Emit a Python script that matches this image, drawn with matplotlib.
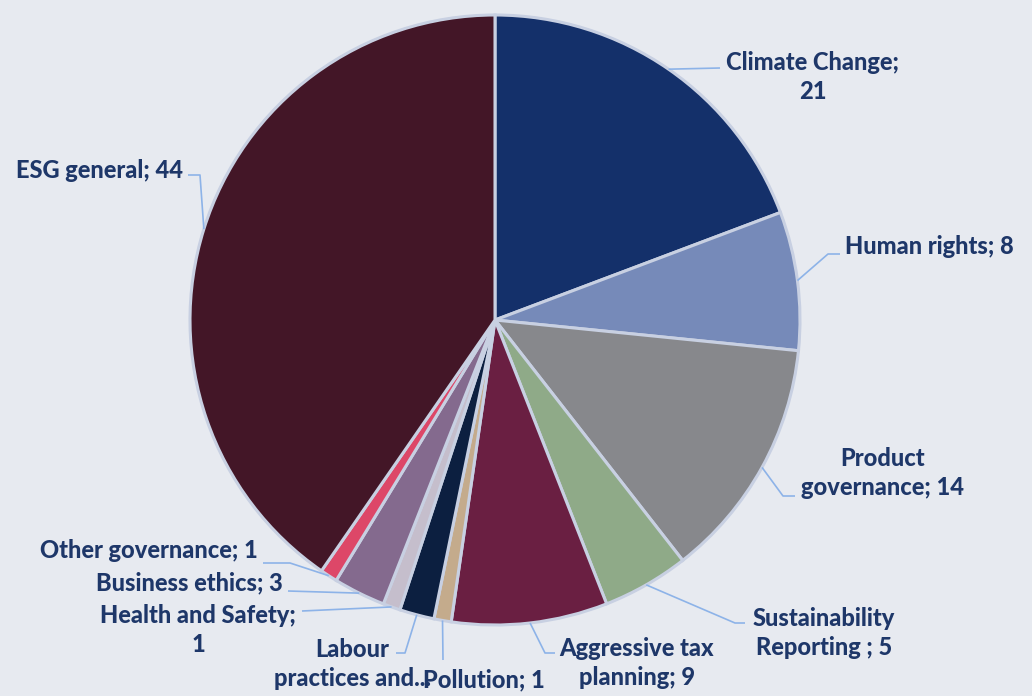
import numpy as np
import matplotlib.pyplot as plt

# ESG topics and counts, clockwise from 12 o'clock
topics = ["Climate Change", "Human rights", "Product governance",
          "Sustainability Reporting", "Aggressive tax planning", "Pollution",
          "Labour practices and...", "Health and Safety", "Business ethics",
          "Other governance", "ESG general"]
counts = [21, 8, 14, 5, 9, 1, 2, 1, 3, 1, 44]

# label text as wrapped on the chart ({} gets the count)
label_fmt = ["Climate Change;\n{}", "Human rights; {}", "Product\ngovernance; {}",
             "Sustainability\nReporting ; {}", "Aggressive tax\nplanning; {}",
             "Pollution; {}", "Labour\npractices and...", "Health and Safety;\n{}",
             "Business ethics; {}", "Other governance; {}", "ESG general; {}"]

colors = ["#14306A", "#768AB9", "#87888C", "#8FAA88", "#6A1F42", "#C4AB8C",
          "#0C1F40", "#C5BECC", "#846A8E", "#DD4768", "#431627"]

BG = "#E7EAF0"
TEXT = "#1E3769"
LEADER = "#8DB3E8"

W, H = 1032, 696
CX, CY, R = 495, 320, 305


def px(x, y):
    # pixel position -> data coords (pie radius = 1)
    return (x - CX) / R, (CY - y) / R


# text placement: (x, y, ha) in pixels, plus leader elbow points
layout = [
    ((813, 77, "center"), [(720, 68)]),
    ((845, 246, "left"), [(828, 254), (840, 254)]),
    ((883, 473, "center"), [(783, 496), (795, 496)]),
    ((824, 633, "center"), [(735, 623), (745, 623)]),
    ((637, 663, "center"), [(545, 653), (555, 653)]),
    ((423, 680, "left"), [(443, 660)]),
    ((352, 664, "center"), [(405, 653), (396, 653)]),
    ((198, 630, "center"), [(302, 611)]),
    ((283, 583, "right"), [(288, 591)]),
    ((258, 551, "right"), [(290, 563), (263, 563)]),
    ((183, 170, "right"), [(200, 175), (188, 175)]),
]

fig = plt.figure(figsize=(W / 100, H / 100), dpi=100, facecolor=BG)
ax = fig.add_axes([0, 0, 1, 1])
ax.set_facecolor(BG)

wedges, _ = ax.pie(counts, colors=colors, startangle=90, counterclock=False,
                   radius=1.0, wedgeprops=dict(edgecolor="#C8D0E2", linewidth=2.2))

for w, fmt, n, ((tx, ty, ha), elbow) in zip(wedges, label_fmt, counts, layout):
    mid = np.deg2rad((w.theta1 + w.theta2) / 2)
    pts = [(np.cos(mid), np.sin(mid))] + [px(x, y) for x, y in elbow]
    xs, ys = zip(*pts)
    ax.plot(xs, ys, color=LEADER, lw=1.2, solid_capstyle="butt", zorder=1)
    x, y = px(tx, ty)
    ax.text(x, y, fmt.format(n), ha=ha, va="center", color=TEXT,
            fontsize=17, fontweight="black", family=["Lato", "DejaVu Sans"],
            linespacing=1.32, multialignment="center")

ax.set_xlim(-CX / R, (W - CX) / R)
ax.set_ylim(-(H - CY) / R, CY / R)
ax.set_aspect("auto")
ax.axis("off")

fig.savefig("out.png", dpi=100, facecolor=BG)
